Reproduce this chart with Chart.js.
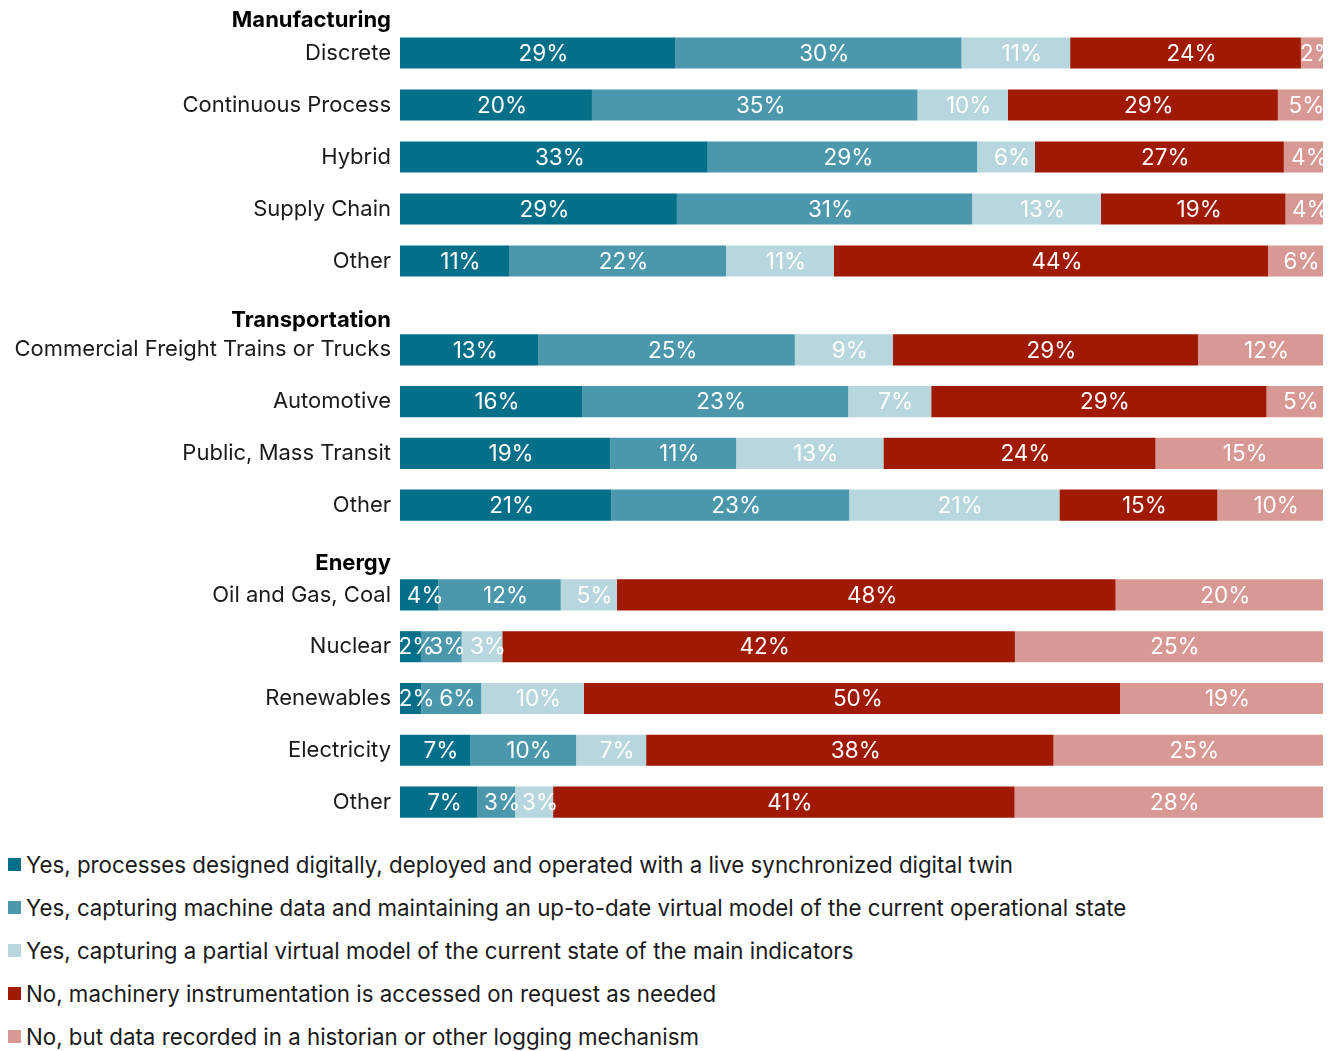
<!DOCTYPE html>
<html>
<head>
<meta charset="utf-8">
<script src="https://cdn.jsdelivr.net/npm/chart.js@4/dist/chart.umd.min.js"></script>
<style>
  html, body { margin: 0; padding: 0; background: #fff; width: 1329px; height: 1051px; overflow: hidden; font-family: Inter, sans-serif; }
  .panel { position: absolute; left: 0; width: 1329px; }
  #legend { position: absolute; left: 8px; top: 843px; }
  .li { display: flex; align-items: center; height: 43px; font-size: 22.3px; color: #1a1a1a; white-space: nowrap; }
  .sw { width: 13px; height: 13px; margin-right: 5px; flex: none; }
</style>
</head>
<body>
<div class="panel" style="top:0;height:287px"><canvas id="c1"></canvas></div>
<div class="panel" style="top:287px;height:244px"><canvas id="c2"></canvas></div>
<div class="panel" style="top:531px;height:297px"><canvas id="c3"></canvas></div>
<div id="legend"></div>
<script>
// ---- data ----
const groupNames = ['Manufacturing', 'Transportation', 'Energy'];
const manufacturingCategories = ['Discrete', 'Continuous Process', 'Hybrid', 'Supply Chain', 'Other'];
const transportationCategories = ['Commercial Freight Trains or Trucks', 'Automotive', 'Public, Mass Transit', 'Other'];
const energyCategories = ['Oil and Gas, Coal', 'Nuclear', 'Renewables', 'Electricity', 'Other'];

const seriesNames = [
  'Yes, processes designed digitally, deployed and operated with a live synchronized digital twin',
  'Yes, capturing machine data and maintaining an up-to-date virtual model of the current operational state',
  'Yes, capturing a partial virtual model of the current state of the main indicators',
  'No, machinery instrumentation is accessed on request as needed',
  'No, but data recorded in a historian or other logging mechanism'
];
const seriesColors = ['#036f89', '#4b97ac', '#b7d6de', '#a01903', '#d89994'];

// values per row: Manufacturing (5), Transportation (4), Energy (5)
const liveTwin     = [28.6, 20.4, 33.0, 28.8, 11.1,  13.3, 15.8, 18.7, 20.6,  3.7, 1.7, 2.0, 6.6, 6.9];
const machineData  = [29.8, 34.6, 28.9, 30.7, 22.1,  24.6, 23.1, 11.2, 23.2,  11.8, 3.3, 5.6, 10.0, 3.4];
const partialModel = [11.3, 9.6, 6.2, 13.4, 11.0,    9.4, 7.2, 13.1, 20.5,    5.4, 3.3, 9.6, 6.6, 3.4];
const onRequest    = [24.0, 28.7, 26.7, 19.2, 44.2,  29.3, 29.1, 24.2, 15.4,  48.1, 41.6, 50.2, 38.4, 41.3];
const historian    = [2.3, 4.8, 4.2, 3.9, 5.6,       12.0, 4.9, 14.9, 10.3,   20.0, 25.0, 19.0, 25.4, 27.6];

const allSeries = [liveTwin, machineData, partialModel, onRequest, historian];

// ---- helpers ----
const FONT = 'Inter, sans-serif';
const TEXT = '#1a1a1a';

const valueLabels = {
  id: 'valueLabels',
  afterDatasetsDraw(chart, args, opts) {
    const { ctx, chartArea: a } = chart;
    ctx.save();
    ctx.beginPath();
    ctx.rect(a.left, a.top, a.right - a.left, a.bottom - a.top);
    ctx.clip();
    ctx.font = '22.5px ' + FONT;
    ctx.fillStyle = '#ffffff';
    ctx.textAlign = 'center';
    ctx.textBaseline = 'middle';
    chart.data.datasets.forEach((ds, i) => {
      const meta = chart.getDatasetMeta(i);
      meta.data.forEach((bar, j) => {
        const raw = ds.rawValues[j];
        ctx.fillText(Math.round(raw) + '%', (bar.x + bar.base) / 2 + opts.shift, bar.y + 1);
      });
    });
    ctx.restore();
  }
};

const groupHeader = {
  id: 'groupHeader',
  afterDraw(chart, args, opts) {
    const { ctx } = chart;
    const ys = chart.scales.y;
    ctx.save();
    ctx.font = 'bold 22px ' + FONT;
    ctx.fillStyle = '#000';
    ctx.textAlign = 'right';
    ctx.textBaseline = 'middle';
    ctx.fillText(opts.text, ys.right - opts.pad, chart.chartArea.top - opts.offset);
    ctx.restore();
  }
};

function makeChart(id, categories, start, groupName, topPad, headerOffset) {
  const n = categories.length;
  const datasets = allSeries.map((s, k) => {
    const raw = s.slice(start, start + n);
    const norm = raw.map((v, j) => {
      let tot = 0;
      allSeries.forEach(t => { tot += t[start + j]; });
      return v / tot * 100;
    });
    return {
      label: seriesNames[k],
      data: norm,
      rawValues: raw,
      backgroundColor: seriesColors[k],
      borderWidth: 0,
      barPercentage: 0.6,
      categoryPercentage: 1.0
    };
  });
  return new Chart(document.getElementById(id), {
    type: 'bar',
    data: { labels: categories, datasets },
    options: {
      indexAxis: 'y',
      responsive: true,
      maintainAspectRatio: false,
      animation: false,
      layout: { padding: { top: topPad, right: 6, left: 0, bottom: 0 } },
      scales: {
        x: { stacked: true, min: 0, max: 100, display: false },
        y: {
          stacked: true,
          grid: { display: false, drawTicks: false },
          border: { display: false },
          ticks: { font: { family: FONT, size: 22 }, color: TEXT, padding: 9 },
          afterFit(scale) {
            scale.width = 400;
            scale.paddingTop = 0;
            scale.paddingBottom = 0;
          }
        }
      },
      plugins: {
        legend: { display: false },
        tooltip: { enabled: false },
        valueLabels: { shift: 6 },
        groupHeader: { text: groupName, pad: 9, offset: headerOffset }
      }
    },
    plugins: [valueLabels, groupHeader]
  });
}

makeChart('c1', manufacturingCategories, 0, groupNames[0], 27, 7);
makeChart('c2', transportationCategories, 5, groupNames[1], 37, 4);
makeChart('c3', energyCategories, 9, groupNames[2], 38, 6);

// legend
const lg = document.getElementById('legend');
seriesNames.forEach((name, k) => {
  const row = document.createElement('div');
  row.className = 'li';
  const sw = document.createElement('span');
  sw.className = 'sw';
  sw.style.background = seriesColors[k];
  const tx = document.createElement('span');
  tx.textContent = name;
  row.appendChild(sw);
  row.appendChild(tx);
  lg.appendChild(row);
});
</script>
</body>
</html>
